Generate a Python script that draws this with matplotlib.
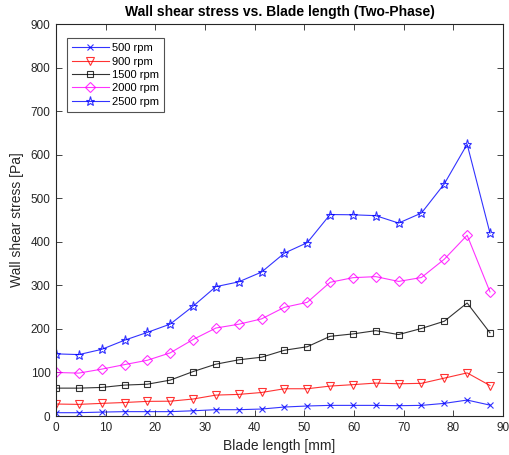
import matplotlib
matplotlib.use("Agg")
import matplotlib.pyplot as plt
import numpy as np

plt.rcParams['font.family'] = ['Liberation Sans', 'DejaVu Sans']

# Blade length positions [mm]
blade_length = [0, 4.6, 9.2, 13.8, 18.4, 23.0, 27.6, 32.2, 36.8, 41.4,
                46.0, 50.6, 55.2, 59.8, 64.4, 69.0, 73.6, 78.2, 82.8, 87.4]

# Wall shear stress [Pa] for each rotational speed
wss_500 = [7.6, 7.6, 9, 10, 10, 10, 12, 14.5, 14.5, 16,
           20.6, 23, 24.4, 24.4, 24.4, 23.7, 24.4, 29, 36.6, 25]
wss_900 = [27.5, 26.7, 29, 31, 33.6, 34, 39, 48, 49.6, 54,
           62.6, 62.6, 68.7, 72, 75.6, 74, 75, 87, 99, 70]
wss_1500 = [64, 64, 65.6, 71, 73, 82.4, 102, 119, 129, 135,
            151, 159, 183, 188.5, 196, 187, 201, 217.6, 259.5, 191]
wss_2000 = [100, 98.5, 107.6, 118, 128, 145, 175.6, 202, 210.7, 223,
            249.6, 261, 307, 317.6, 320, 309, 318, 360, 415, 285]
wss_2500 = [142.7, 141, 153, 174, 192, 211, 252, 297, 308, 330.5,
            374, 398, 462.6, 462, 460, 443, 466, 533, 624, 420]

series_labels = ['500 rpm', '900 rpm', '1500 rpm', '2000 rpm', '2500 rpm']
x_ticks = [0, 10, 20, 30, 40, 50, 60, 70, 80, 90]
y_ticks = [0, 100, 200, 300, 400, 500, 600, 700, 800, 900]

series = [wss_500, wss_900, wss_1500, wss_2000, wss_2500]
styles = [
    dict(color=(0, 0, 1), marker='x', ms=3.8),
    dict(color=(1, 0, 0), marker='v', ms=5.5),
    dict(color=(0, 0, 0), marker='s', ms=4.3),
    dict(color=(1, 0, 1), marker='D', ms=4.8),
    dict(color=(0, 0, 1), marker='*', ms=6.5),
]

fig = plt.figure(figsize=(5.09, 4.55), dpi=100)
ax = fig.add_axes([0.110, 0.0857, 0.878, 0.8615])

for vals, lab, st in zip(series, series_labels, styles):
    ax.plot(blade_length, vals, color=st['color'], marker=st['marker'],
            markersize=st['ms'], markerfacecolor='none',
            markeredgecolor=st['color'], markeredgewidth=0.8,
            linewidth=0.8, label=lab, alpha=0.8)

ax.set_xlim(0, 90)
ax.set_ylim(0, 900)
ax.set_xticks(x_ticks)
ax.set_yticks(y_ticks)

axis_grey = (0.15, 0.15, 0.15)
for sp in ax.spines.values():
    sp.set_color(axis_grey)
    sp.set_linewidth(0.8)
ax.tick_params(direction='in', length=4, width=0.6, colors=axis_grey,
               labelsize=8.5, top=True, right=True, pad=4)

ax.set_xlabel('Blade length [mm]', fontsize=10, color=axis_grey, labelpad=4)
ax.set_ylabel('Wall shear stress [Pa]', fontsize=10, color=axis_grey, labelpad=5)
ax.set_title('Wall shear stress vs. Blade length (Two-Phase)', fontsize=10,
             fontweight='bold', color='black', pad=6)

leg = ax.legend(loc='upper left', fontsize=8, frameon=True, fancybox=False,
                edgecolor=axis_grey, borderpad=0.45, labelspacing=0.3,
                handlelength=3.3, handletextpad=0.3,
                bbox_to_anchor=(0.012, 0.978))
leg.get_frame().set_linewidth(0.8)

fig.savefig('out.png', dpi=100)
